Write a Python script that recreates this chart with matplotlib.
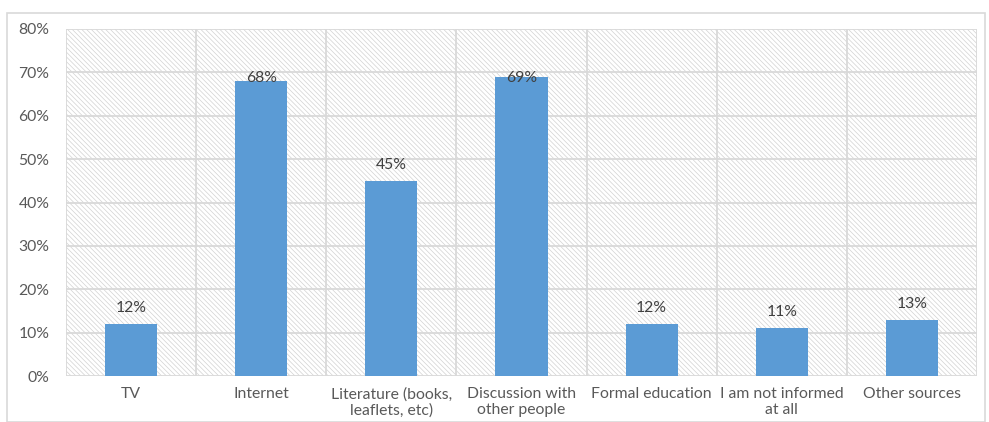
import matplotlib.pyplot as plt
from matplotlib.patches import Rectangle

plt.rcParams['font.family'] = ['Lato', 'DejaVu Sans']

# Information sources and share of respondents (%)
sources = ['TV', 'Internet', 'Literature (books,\nleaflets, etc)', 'Discussion with\nother people',
           'Formal education', 'I am not informed\nat all', 'Other sources']
shares = [12, 68, 45, 69, 12, 11, 13]
yticks = [0, 10, 20, 30, 40, 50, 60, 70, 80]

text_col = '#595959'
grid_col = '#D9D9D9'
fs = 11.3

fig = plt.figure(figsize=(9.89, 4.22), dpi=100)
# outer chart frame
fig.patches.append(Rectangle((7 / 989, 0), 978 / 989, 1 - 13 / 422, transform=fig.transFigure,
                             fill=False, edgecolor=grid_col, linewidth=1.2))
ax = fig.add_axes([66 / 989, 1 - 376 / 422, 911 / 989, 347 / 422])

n = len(sources)
ax.set_xlim(-0.5, n - 0.5)
ax.set_ylim(0, 80)

# hatched plot background
plt.rcParams['hatch.linewidth'] = 0.5
ax.add_patch(Rectangle((-0.5, 0), n, 80, facecolor='white', edgecolor='#D2D2D2',
                       hatch='\\' * 7, linewidth=0, zorder=0))

for y in yticks:
    ax.axhline(y, color=grid_col, linewidth=1.3, zorder=1)
for i in range(n + 1):
    ax.axvline(i - 0.5, color=grid_col, linewidth=1.3, zorder=1)

ax.bar(range(n), shares, width=0.4, color='#5B9BD5', zorder=2)

# labels sit above the bar, pushed down when they would leave the plot
for i, v in enumerate(shares):
    ax.text(i, min(v + 3.7, 68.6), f'{v}%', ha='center', va='center',
            fontsize=fs, color='#404040', zorder=3)

for s in ax.spines.values():
    s.set_visible(False)

ax.set_yticks(yticks)
ax.set_yticklabels([f'{y}%' for y in yticks])
ax.set_xticks(range(n))
ax.set_xticklabels(sources)
ax.tick_params(axis='both', length=0, colors=text_col, labelsize=fs)
ax.tick_params(axis='y', pad=12)
ax.tick_params(axis='x', pad=8)

fig.savefig('out.png', dpi=100)
